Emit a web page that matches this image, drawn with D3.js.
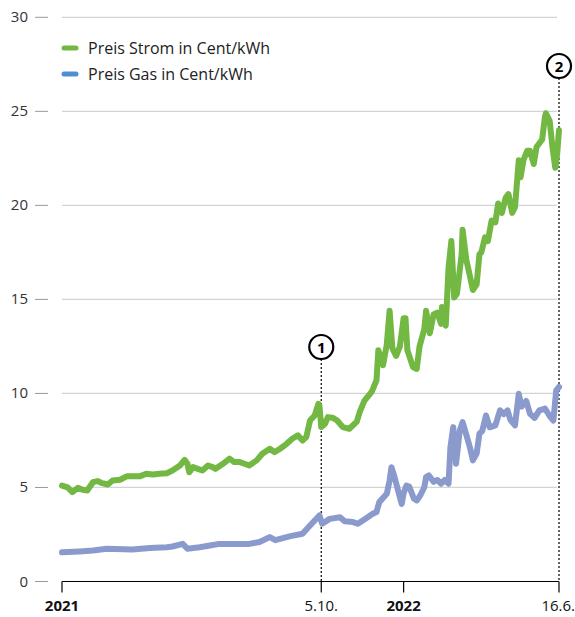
<!DOCTYPE html>
<html lang="de">
<head>
    <meta charset="UTF-8">
    <title>Strom und Gas</title>
    <script src="https://d3js.org/d3.v7.min.js"></script>
    <style>
        body { margin: 0; background: #fff; }
        svg text { font-family: "Open Sans", "Noto Sans", sans-serif; }
    </style>
</head>
<body>
<svg id="chart" width="575" height="617"></svg>
<script>
// Preis Strom in Cent/kWh
const stromDates = ["2021-01-01","2021-01-07","2021-01-12","2021-01-18","2021-01-23","2021-01-28","2021-02-03","2021-02-08","2021-02-13","2021-02-19","2021-02-24","2021-03-04","2021-03-11","2021-03-17","2021-03-25","2021-04-01","2021-04-08","2021-04-15","2021-04-23","2021-04-29","2021-05-07","2021-05-12","2021-05-15","2021-05-17","2021-05-21","2021-05-26","2021-05-31","2021-06-06","2021-06-11","2021-06-14","2021-06-22","2021-06-29","2021-07-04","2021-07-10","2021-07-15","2021-07-20","2021-07-28","2021-08-03","2021-08-11","2021-08-16","2021-08-22","2021-08-29","2021-09-04","2021-09-10","2021-09-15","2021-09-19","2021-09-23","2021-09-28","2021-10-02","2021-10-03","2021-10-05","2021-10-09","2021-10-12","2021-10-17","2021-10-22","2021-10-28","2021-11-04","2021-11-12","2021-11-15","2021-11-20","2021-11-28","2021-12-03","2021-12-05","2021-12-10","2021-12-14","2021-12-17","2021-12-20","2021-12-24","2021-12-28","2022-01-01","2022-01-03","2022-01-05","2022-01-11","2022-01-15","2022-01-18","2022-01-23","2022-01-25","2022-01-29","2022-02-02","2022-02-06","2022-02-10","2022-02-11","2022-02-15","2022-02-18","2022-02-21","2022-02-24","2022-02-27","2022-03-04","2022-03-05","2022-03-09","2022-03-13","2022-03-16","2022-03-20","2022-03-23","2022-03-25","2022-03-29","2022-04-01","2022-04-05","2022-04-09","2022-04-12","2022-04-16","2022-04-20","2022-04-23","2022-04-27","2022-04-30","2022-05-04","2022-05-06","2022-05-09","2022-05-13","2022-05-16","2022-05-20","2022-05-23","2022-05-29","2022-06-01","2022-06-02","2022-06-06","2022-06-09","2022-06-12","2022-06-14","2022-06-16"];
const stromValues = [5.1,5.0,4.75,4.98,4.88,4.84,5.28,5.34,5.23,5.16,5.37,5.41,5.59,5.59,5.59,5.73,5.69,5.73,5.76,5.9,6.17,6.47,6.26,5.81,6.08,5.99,5.9,6.17,6.08,5.99,6.26,6.53,6.35,6.35,6.26,6.17,6.44,6.79,7.06,6.88,7.06,7.32,7.59,7.77,7.5,7.68,8.56,8.83,9.45,9.36,8.21,8.39,8.74,8.71,8.56,8.21,8.12,8.5,9.0,9.6,10.1,10.7,12.3,11.5,12.6,14.4,12.4,12.0,12.5,14.0,14.0,12.3,11.4,11.3,12.5,13.4,14.4,13.2,14.2,14.3,13.7,14.6,13.6,16.7,18.1,15.1,15.3,17.4,18.7,17.1,16.2,15.5,15.8,17.4,17.5,18.3,18.1,19.2,19.1,20.1,19.6,20.4,20.6,19.6,19.9,22.4,21.5,22.4,22.9,22.9,22.2,23.1,23.5,24.7,24.9,24.5,23.1,22.0,22.7,24.0];

// Preis Gas in Cent/kWh
const gasDates = ["2021-01-01","2021-01-20","2021-02-03","2021-02-18","2021-03-17","2021-04-05","2021-04-23","2021-04-29","2021-05-10","2021-05-15","2021-05-28","2021-06-08","2021-06-18","2021-06-29","2021-07-20","2021-07-31","2021-08-11","2021-08-17","2021-09-01","2021-09-15","2021-09-23","2021-10-03","2021-10-06","2021-10-14","2021-10-25","2021-10-30","2021-11-08","2021-11-13","2021-11-20","2021-11-29","2021-12-03","2021-12-06","2021-12-14","2021-12-17","2021-12-19","2021-12-22","2021-12-28","2021-12-30","2022-01-01","2022-01-04","2022-01-07","2022-01-12","2022-01-15","2022-01-19","2022-01-23","2022-01-25","2022-01-28","2022-02-02","2022-02-06","2022-02-10","2022-02-14","2022-02-18","2022-02-20","2022-02-23","2022-02-26","2022-03-02","2022-03-05","2022-03-09","2022-03-13","2022-03-16","2022-03-20","2022-03-23","2022-03-26","2022-03-30","2022-04-03","2022-04-09","2022-04-14","2022-04-18","2022-04-22","2022-04-25","2022-04-30","2022-05-04","2022-05-07","2022-05-12","2022-05-16","2022-05-21","2022-05-26","2022-06-01","2022-06-06","2022-06-10","2022-06-13","2022-06-16"];
const gasValues = [1.55,1.6,1.65,1.74,1.7,1.78,1.82,1.86,2.0,1.74,1.82,1.91,2.0,2.0,2.0,2.1,2.36,2.2,2.4,2.54,2.98,3.51,3.07,3.33,3.42,3.2,3.16,3.07,3.3,3.6,3.69,4.22,4.66,5.37,6.08,5.6,4.48,4.13,4.7,5.1,5.05,4.4,4.31,4.6,5.0,5.55,5.64,5.3,5.4,5.2,5.4,5.2,7.14,8.21,6.26,8.03,8.47,7.8,7.1,6.44,6.8,7.86,8.0,8.83,8.2,8.3,9.1,8.9,9.1,8.6,8.3,9.98,9.3,9.6,8.92,8.7,9.1,9.2,8.8,8.56,10.16,10.34];

const yTicks = [0, 5, 10, 15, 20, 25, 30];
const xTickDates = ["2021-01-01", "2021-10-05", "2022-01-01", "2022-06-16"];
const xTickLabels = ["2021", "5.10.", "2022", "16.6."];
const markerDates = ["2021-10-05", "2022-06-16"];
const markerLabels = ["1", "2"];
const legendLabels = ["Preis Strom in Cent/kWh", "Preis Gas in Cent/kWh"];

const parse = d3.timeParse("%Y-%m-%d");
const svg = d3.select("#chart");

const x = d3.scaleTime()
    .domain([parse("2021-01-01"), parse("2022-06-16")])
    .range([62, 559]);
const y = d3.scaleLinear()
    .domain([0, 30])
    .range([581.5, 17.3]);

// gridlines + y ticks
const yAxis = svg.append("g");
yTicks.forEach(t => {
    if (t > 0) {
        yAxis.append("line")
            .attr("x1", 62).attr("x2", 557)
            .attr("y1", y(t)).attr("y2", y(t))
            .attr("stroke", "#d4d4d4").attr("stroke-width", 1.3);
    }
    yAxis.append("line")
        .attr("x1", 35).attr("x2", 48)
        .attr("y1", y(t)).attr("y2", y(t))
        .attr("stroke", "#999").attr("stroke-width", 1);
    yAxis.append("text")
        .attr("x", 28).attr("y", y(t) + 5)
        .attr("text-anchor", "end")
        .attr("font-size", 15)
        .attr("fill", "#333")
        .text(t);
});

// marker lines
markerDates.forEach((d, i) => {
    const cx = x(parse(d));
    const cy = i === 0 ? 347 : 66;
    svg.append("line")
        .attr("x1", cx).attr("x2", cx)
        .attr("y1", cy + 12).attr("y2", y(0))
        .attr("stroke", "#000").attr("stroke-width", 1.2)
        .attr("stroke-dasharray", "2,2");
});

// series
const line = d3.line()
    .x(d => x(d[0]))
    .y(d => y(d[1]))
    .curve(d3.curveLinear);

const gasData = gasDates.map((d, i) => [parse(d), gasValues[i]]);
const stromData = stromDates.map((d, i) => [parse(d), stromValues[i]]);

svg.append("path")
    .datum(gasData)
    .attr("d", line)
    .attr("fill", "none")
    .attr("stroke", "#8a9acd")
    .attr("stroke-width", 6)
    .attr("stroke-linejoin", "round")
    .attr("stroke-linecap", "round");

svg.append("path")
    .datum(stromData)
    .attr("d", line)
    .attr("fill", "none")
    .attr("stroke", "#72b843")
    .attr("stroke-width", 6)
    .attr("stroke-linejoin", "round")
    .attr("stroke-linecap", "round");

// x axis
svg.append("line")
    .attr("x1", 62).attr("x2", 559)
    .attr("y1", y(0)).attr("y2", y(0))
    .attr("stroke", "#000").attr("stroke-width", 1.2);

xTickDates.forEach((d, i) => {
    const tx = x(parse(d));
    svg.append("line")
        .attr("x1", tx).attr("x2", tx)
        .attr("y1", y(0)).attr("y2", y(0) + 11)
        .attr("stroke", "#000").attr("stroke-width", 1.2);
    const last = i === xTickDates.length - 1;
    svg.append("text")
        .attr("x", last ? 575 : tx)
        .attr("y", 611)
        .attr("text-anchor", last ? "end" : "middle")
        .attr("font-size", 15)
        .attr("font-weight", i % 2 === 0 ? "bold" : "normal")
        .attr("fill", "#111")
        .text(xTickLabels[i]);
});

// marker circles
markerDates.forEach((d, i) => {
    const cx = x(parse(d));
    const cy = i === 0 ? 347 : 66;
    svg.append("circle")
        .attr("cx", cx).attr("cy", cy).attr("r", 12)
        .attr("fill", "#fff")
        .attr("stroke", "#000").attr("stroke-width", 2.2);
    svg.append("text")
        .attr("x", cx).attr("y", cy + 5.5)
        .attr("text-anchor", "middle")
        .attr("font-size", 15)
        .attr("font-weight", "bold")
        .text(markerLabels[i]);
});

// legend
const legendColors = ["#72b843", "#4d8fd1"];
legendLabels.forEach((l, i) => {
    const ly = 48 + i * 26;
    svg.append("line")
        .attr("x1", 64).attr("x2", 76)
        .attr("y1", ly).attr("y2", ly)
        .attr("stroke", legendColors[i])
        .attr("stroke-width", 5)
        .attr("stroke-linecap", "round");
    svg.append("text")
        .attr("x", 88).attr("y", ly + 6)
        .attr("font-size", 16)
        .attr("fill", "#222")
        .text(l);
});
</script>
</body>
</html>
